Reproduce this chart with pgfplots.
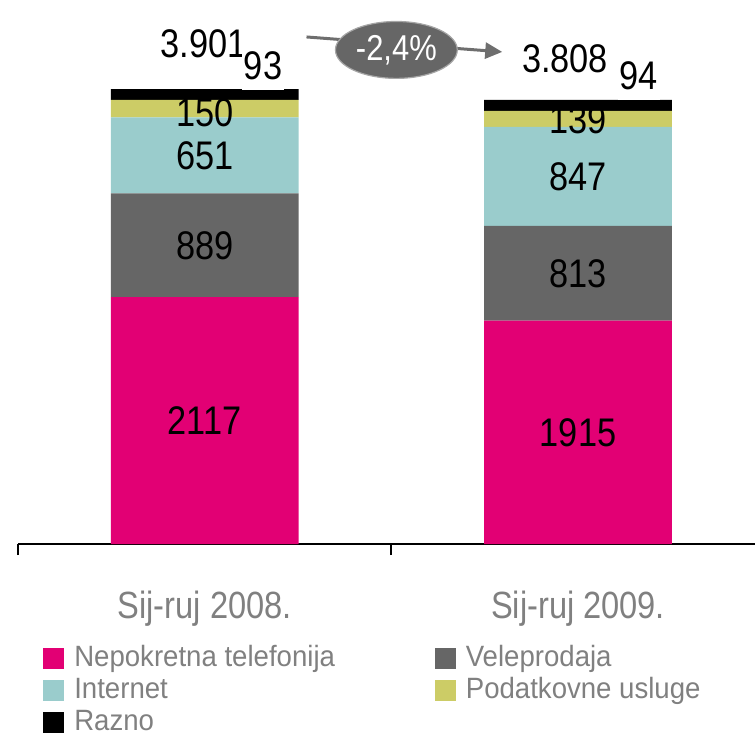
\documentclass[border=0pt]{standalone}
\usepackage{fontspec}
\setmainfont[FakeStretch=0.86]{Liberation Sans}
\newfontfamily\legfont[FakeStretch=0.94]{Liberation Sans}
\usepackage{pgfplots}
\pgfplotsset{compat=1.18}
\usetikzlibrary{arrows.meta}
\definecolor{tmagenta}{HTML}{E20074}
\definecolor{tdgray}{HTML}{666666}
\definecolor{tteal}{HTML}{9ACCCC}
\definecolor{tolive}{HTML}{CCCC66}
\definecolor{tlabel}{HTML}{808080}
\definecolor{arrowgray}{HTML}{6E6E6E}
\newcommand\numfont{\fontsize{20}{24}\selectfont}
\pgfplotsset{sqleg/.style={legend image code/.code={\fill[##1,draw=none] (0pt,-5.25pt) rectangle (10.5pt,5.25pt);}}}

\begin{document}
\begin{tikzpicture}
% 1px = 0.5pt, origin at top left of the picture
\begin{scope}[x=0.5pt,y=-0.5pt]
\useasboundingbox (0,0) rectangle (756,730);
\end{scope}
\begin{axis}[
  at={(9pt,-272.5pt)}, anchor=south west,
  scale only axis, width=369pt, height=272.5pt,
  ybar stacked, bar width=94pt,
  xmin=-0.5, xmax=1.4733, ymin=0, ymax=4663,
  enlargelimits=false, clip=false,
  axis x line=bottom, axis y line=none,
  x axis line style={-, line width=1.2pt},
  xtick={-0.5,0.5}, xticklabels={,},
  tick align=outside, major tick length=5.5pt,
  xtick style={black, line width=1pt},
  extra x ticks={0,1},
  extra x tick labels={Sij-ruj 2008.,Sij-ruj 2009.},
  extra x tick style={major tick length=0pt,
    xticklabel style={font=\fontsize{19}{22}\selectfont, text=tlabel, anchor=base, yshift=-37pt}},
  legend columns=2,
  legend cell align=left,
  legend style={draw=none, fill=none, at={(0.0339,-0.18)}, anchor=north west,
    inner sep=0pt, font=\legfont\fontsize{14.7}{16}\selectfont, text=tlabel,
    nodes={inner xsep=2pt, inner ysep=1pt, text height=11pt, text depth=3pt},
    /tikz/every odd column/.append style={column sep=3pt},
    /tikz/every even column/.append style={column sep=48pt}},
]
\addplot[fill=tmagenta, draw=none, sqleg] coordinates {(0,2117) (1,1915)};
\addplot[fill=tdgray, draw=none, sqleg] coordinates {(0,889) (1,813)};
\addplot[fill=tteal, draw=none, sqleg] coordinates {(0,651) (1,847)};
\addplot[fill=tolive, draw=none, sqleg] coordinates {(0,150) (1,139)};
\addplot[fill=black, draw=none, sqleg] coordinates {(0,93) (1,94)};
\legend{Nepokretna telefonija,Veleprodaja,Internet,Podatkovne usluge,Razno}
% segment centres, labelled after the axis so the text sits above the bars
\coordinate (a1) at (axis cs:0,1060);
\coordinate (a2) at (axis cs:0,2561);
\coordinate (a3) at (axis cs:0,3331);
\coordinate (a4) at (axis cs:0,3700);
\coordinate (b1) at (axis cs:1,957);
\coordinate (b2) at (axis cs:1,2321);
\coordinate (b3) at (axis cs:1,3151);
\coordinate (b4) at (axis cs:1,3636);
\end{axis}
\node[font=\numfont] at (a1) {2117};
\node[font=\numfont] at (a2) {889};
\node[font=\numfont] at (a3) {651};
\node[font=\numfont] at (a4) {150};
\node[font=\numfont] at (b1) {1915};
\node[font=\numfont] at (b2) {813};
\node[font=\numfont] at (b3) {847};
\node[font=\numfont] at (b4) {139};
\begin{scope}[x=0.5pt,y=-0.5pt]
\node[font=\numfont, anchor=base] at (204,58) {3.901};
\node[font=\numfont, anchor=base, fill=white, inner sep=1pt, text depth=4pt] at (263.5,80) {93};
\node[font=\numfont, anchor=base] at (566,73) {3.808};
\node[font=\numfont, anchor=base, fill=white, inner sep=1pt, text depth=4pt] at (640,90) {94};
\draw[line width=1.5pt, arrowgray, -{Triangle[length=8.5pt,width=8pt]}] (307,37) -- (503,52);
\filldraw[fill=tdgray, draw=gray!70, line width=0.6pt] (397,50) ellipse [x radius=61, y radius=28.5];
\node[font=\fontsize{18}{21}\selectfont, text=white] at (397,50) {-2,4\%};
\end{scope}
\end{tikzpicture}
\end{document}
